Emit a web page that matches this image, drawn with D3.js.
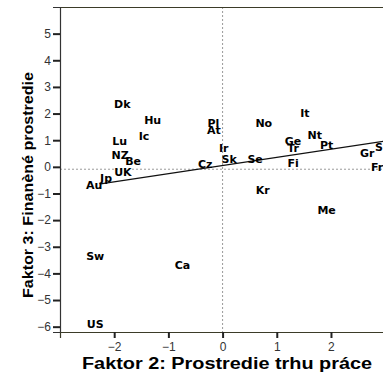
<!DOCTYPE html>
<html><head><meta charset="utf-8">
<script src="https://cdn.jsdelivr.net/npm/d3@7"></script>
<style>body{margin:0;background:#fff;overflow:hidden}</style>
</head><body>
<svg id="c" width="383" height="380"></svg>
<script>
// ---- data ----
const countries = ["Dk","Hu","Ic","Lu","NZ","Be","UK","Jp","Au","Pl","At","Ir","Cz","Sk","Se","No","It","Nt","Ge","Tr","Pt","Fi","Gr","Sl","Fr","Kr","Me","Sw","Ca","US"];
const factor2 = [-1.85,-1.29,-1.45,-1.90,-1.89,-1.65,-1.84,-2.15,-2.37,-0.17,-0.16,0.02,-0.32,0.12,0.60,0.76,1.52,1.70,1.30,1.30,1.92,1.30,2.67,2.92,2.85,0.74,1.92,-2.35,-0.74,-2.35];
const factor3 = [2.35,1.76,1.16,0.95,0.45,0.22,-0.18,-0.42,-0.69,1.66,1.39,0.72,0.10,0.29,0.29,1.66,2.01,1.20,0.97,0.70,0.82,0.16,0.51,0.76,0.01,-0.86,-1.64,-3.36,-3.67,-5.89];
const xTicks = [-2,-1,0,1,2];
const yTicks = [5,4,3,2,1,0,-1,-2,-3,-4,-5,-6];
const fitX = [-2.25, 3.2];
const fitY = [-0.64, 1.03];
const refX = 0, refY = -0.09;
const xTitle = "Faktor 2: Prostredie trhu práce";
const yTitle = "Faktor 3: Finanèné prostredie";

// ---- layout ----
const L = 60, T = 7, B = 332, R = 396;
const x = d3.scaleLinear().domain([-3, 3.2]).range([L, R]);
const y = d3.scaleLinear().domain([-6.2, 6]).range([B, T]);
const svg = d3.select("#c");

svg.append("defs").append("clipPath").attr("id","clip")
  .append("rect").attr("x",L).attr("y",T).attr("width",R-L).attr("height",B-T);

// reference lines
svg.append("line").attr("x1",x(refX)).attr("x2",x(refX)).attr("y1",T).attr("y2",B)
  .attr("stroke","#9a9a9a").attr("stroke-dasharray","2,2");
svg.append("line").attr("x1",L).attr("x2",R).attr("y1",y(refY)).attr("y2",y(refY))
  .attr("stroke","#9a9a9a").attr("stroke-dasharray","2,2");

// top border
svg.append("line").attr("x1",L).attr("x2",R).attr("y1",T+0.5).attr("y2",T+0.5)
  .attr("stroke","#3b3b28").attr("stroke-width",1.2);

// axes
const yAxis = svg.append("g").attr("transform",`translate(${L},0)`)
  .call(d3.axisLeft(y).tickValues(yTicks).tickSize(7).tickPadding(2).tickFormat(d3.format("d")));
const xAxis = svg.append("g").attr("transform",`translate(0,${B})`)
  .call(d3.axisBottom(x).tickValues(xTicks).tickSize(6).tickPadding(4).tickFormat(d3.format("d")));
[yAxis, xAxis].forEach(g => {
  g.select(".domain").attr("stroke","#333").attr("stroke-width",1.2);
  g.selectAll(".tick line").attr("stroke","#222").attr("stroke-width",2);
  g.selectAll(".tick text").attr("fill","#333").attr("font-family","'Liberation Sans', Arial, sans-serif").attr("font-size",12);
});
xAxis.select(".domain").attr("stroke","#3b3b28");

// fit line
const plot = svg.append("g").attr("clip-path","url(#clip)");
plot.append("line").attr("x1",x(fitX[0])).attr("y1",y(fitY[0])).attr("x2",x(fitX[1])).attr("y2",y(fitY[1]))
  .attr("stroke","#111").attr("stroke-width",1.2);

// labels
svg.append("g").selectAll("text").data(countries).join("text")
  .attr("x",(d,i)=>x(factor2[i])).attr("y",(d,i)=>y(factor3[i]))
  .attr("dy","0.36em").attr("text-anchor","middle")
  .attr("font-family","'DejaVu Sans', sans-serif").attr("font-weight","bold").attr("font-size",11)
  .attr("fill","#000").text(d=>d);

// titles
svg.append("text").attr("x",227).attr("y",369).attr("text-anchor","middle")
  .attr("font-family","'Liberation Sans', Arial, sans-serif").attr("font-weight","bold").attr("font-size",16)
  .attr("textLength",290).attr("lengthAdjust","spacingAndGlyphs").text(xTitle);
svg.append("text").attr("transform","translate(33,185) rotate(-90)").attr("text-anchor","middle")
  .attr("font-family","'Liberation Sans', Arial, sans-serif").attr("font-weight","bold").attr("font-size",14)
  .attr("textLength",226).attr("lengthAdjust","spacingAndGlyphs").text(yTitle);
</script>
</body></html>
